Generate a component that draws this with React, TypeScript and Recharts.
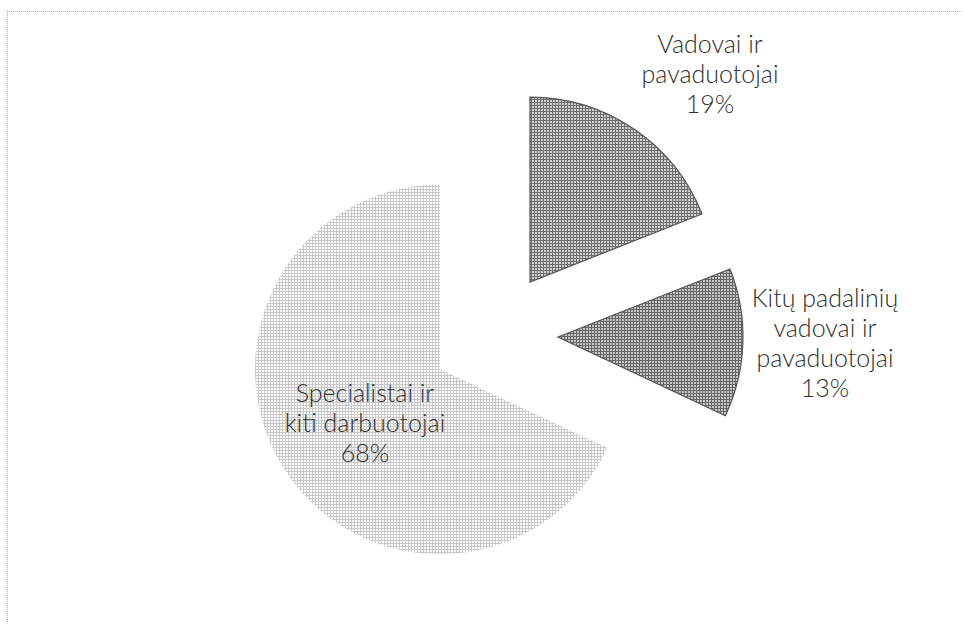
import { Cell, Pie, PieChart, Sector } from "recharts";

const categories = [
  "Vadovai ir\npavaduotojai",
  "Kitų padalinių\nvadovai ir\npavaduotojai",
  "Specialistai ir\nkiti darbuotojai",
];
const shares = [19, 13, 68];

const fills = ["url(#hatchDark)", "url(#hatchDark2)", "url(#hatchLight)"];
const strokes = ["#555555", "#555555", "none"];
const EXPLODE = 64;
const RADIUS = 185;
// first-line anchor of each label, relative to the slice tip after exploding
const labelOffsets = [
  { dx: 180, dy: -229 },
  { dx: 267, dy: -30 },
  { dx: -75, dy: 33 },
];
const LINE_H = 30;
const RAD = Math.PI / 180;

type SliceLabelProps = {
  cx: number;
  cy: number;
  midAngle: number;
  startAngle: number;
  endAngle: number;
  outerRadius: number;
  percent: number;
  index: number;
  name: string;
};

const Patterns = () => (
  <defs>
    <pattern id="hatchDark" width="3" height="3" patternUnits="userSpaceOnUse">
      <rect width="3" height="3" fill="#d2d2d2" />
      <path d="M0 0.5H3M0.5 0V3" stroke="#6e6e6e" strokeWidth="1" />
    </pattern>
    <pattern id="hatchDark2" width="3" height="3" patternUnits="userSpaceOnUse">
      <rect width="3" height="3" fill="#c8c8c8" />
      <path d="M0 0.5H3M0.5 0V3" stroke="#666666" strokeWidth="1" />
    </pattern>
    <pattern id="hatchLight" width="3" height="3" patternUnits="userSpaceOnUse">
      <rect width="3" height="3" fill="#ffffff" />
      <path d="M0 0.5H3M0.5 0V3" stroke="#c9c9c9" strokeWidth="1" />
    </pattern>
  </defs>
);

// exploded slice + its text, drawn through the label hook so each sector can be shifted
const SliceWithLabel = (props: SliceLabelProps) => {
  const { cx, cy, midAngle, startAngle, endAngle, outerRadius, percent, index, name } = props;
  const tx = cx + EXPLODE * Math.cos(-midAngle * RAD);
  const ty = cy + EXPLODE * Math.sin(-midAngle * RAD);
  const off = labelOffsets[index];
  const lines = [...String(name).split("\n"), `${Math.round(percent * 100)}%`];
  return (
    <g>
      {index === 0 && <Patterns />}
      <Sector
        cx={tx}
        cy={ty}
        innerRadius={0}
        outerRadius={outerRadius}
        startAngle={startAngle}
        endAngle={endAngle}
        fill={fills[index]}
        stroke={strokes[index]}
        strokeWidth={1.2}
      />
      <text
        x={tx + off.dx}
        y={ty + off.dy}
        textAnchor="middle"
        fill="#2e2e2e"
        fontSize={25}
        fontWeight={300}
        fontFamily="Lato, 'Open Sans', sans-serif"
      >
        {lines.map((line, i) => (
          <tspan key={i} x={tx + off.dx} dy={i === 0 ? 0 : LINE_H}>
            {line}
          </tspan>
        ))}
      </text>
    </g>
  );
};

export default function App() {
  const data = categories.map((name, i) => ({ name, value: shares[i] }));

  return (
    <div style={{ position: "absolute", left: 0, top: 0, width: 963, height: 638, background: "#ffffff" }}>
      <div
        style={{
          position: "absolute",
          left: 7,
          top: 11,
          width: 956,
          height: 610,
          borderTop: "1px dotted #b5b5b5",
          borderLeft: "1px dotted #b5b5b5",
        }}
      />
      <PieChart width={963} height={638} style={{ position: "absolute", left: 0, top: 0 }}>
        <Pie
          data={data}
          dataKey="value"
          nameKey="name"
          cx={489}
          cy={330}
          outerRadius={RADIUS}
          startAngle={90}
          endAngle={-270}
          stroke="none"
          label={SliceWithLabel}
          labelLine={false}
          isAnimationActive={false}
        >
          {data.map((d) => (
            <Cell key={d.name} fill="transparent" stroke="none" />
          ))}
        </Pie>
      </PieChart>
    </div>
  );
}
